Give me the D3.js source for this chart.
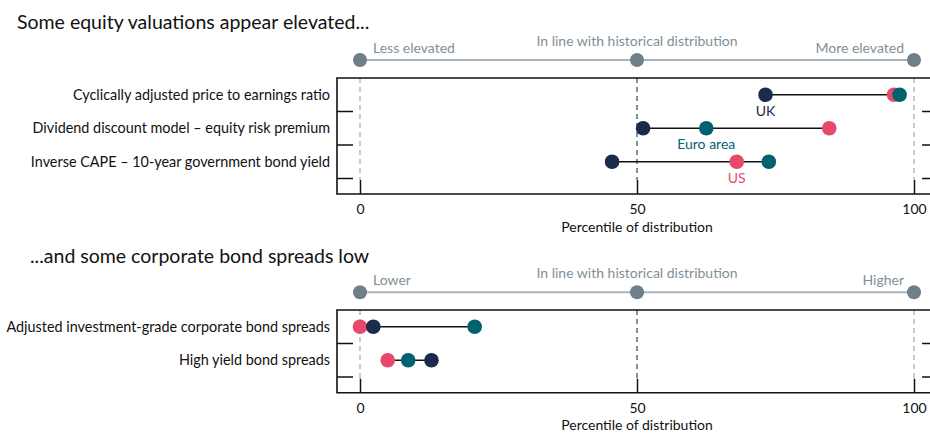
<!DOCTYPE html>
<html><head><meta charset="utf-8">
<script src="https://cdn.jsdelivr.net/npm/d3@7"></script>
<style>
html,body{margin:0;padding:0;background:#fff;}
svg{display:block;font-family:Lato,"Open Sans",sans-serif;}
</style></head>
<body><svg id="c" width="930" height="433"></svg>
<script>
// ---- data ----
const titles = ["Some equity valuations appear elevated...", "...and some corporate bond spreads low"];
const equityCategories = ["Cyclically adjusted price to earnings ratio", "Dividend discount model \u2013 equity risk premium", "Inverse CAPE \u2013 10-year government bond yield"];
const equityUK = [73.2, 51.1, 45.5];
const equityEuro = [97.4, 62.5, 73.8];
const equityUS = [96.4, 84.7, 68.0];
const bondCategories = ["Adjusted investment-grade corporate bond spreads", "High yield bond spreads"];
const bondUK = [2.4, 12.9];
const bondEuro = [20.7, 8.7];
const bondUS = [0.0, 5.0];
const xTicks = [0, 50, 100];
const equityScaleLabels = ["Less elevated", "In line with historical distribution", "More elevated"];
const bondScaleLabels = ["Lower", "In line with historical distribution", "Higher"];
const seriesNames = ["US", "UK", "Euro area"];
const axisTitle = "Percentile of distribution";

const colors = {UK: "#1c2b4c", "Euro area": "#00626e", US: "#e8496b"};
const svg = d3.select("#c");
const x = d3.scaleLinear().domain([0, 100]).range([360, 914]);
const plotLeft = 337, plotRight = 934;

function panel(o) {
  const g = svg.append("g");
  // title
  g.append("text").attr("x", o.titleX).attr("y", o.titleY).attr("font-size", 19.5).attr("fill", "#111").text(o.title);
  // indicator scale
  g.append("line").attr("x1", x(0)).attr("x2", x(100)).attr("y1", o.indY).attr("y2", o.indY)
    .attr("stroke", "#a7b4bb").attr("stroke-width", 2);
  g.selectAll(".ind").data(xTicks).join("circle").attr("cx", d => x(d)).attr("cy", o.indY).attr("r", 7).attr("fill", "#6e7f89");
  const lc = "#7f9099";
  g.append("text").attr("x", x(0) + 13).attr("y", o.sideLabelY).attr("font-size", 14).attr("fill", lc).text(o.scaleLabels[0]);
  g.append("text").attr("x", x(50)).attr("y", o.midLabelY).attr("text-anchor", "middle").attr("font-size", 14).attr("fill", lc).text(o.scaleLabels[1]);
  g.append("text").attr("x", x(100) - 10).attr("y", o.sideLabelY).attr("text-anchor", "end").attr("font-size", 14).attr("fill", lc).text(o.scaleLabels[2]);

  const y = d3.scaleBand().domain(o.cats).range([o.top, o.top + o.cats.length * 33.5]).padding(0);
  const cy = c => y(c) + y.bandwidth() / 2;

  // dashed reference lines
  g.selectAll(".ref").data(xTicks).join("line")
    .attr("x1", d => x(d)).attr("x2", d => x(d)).attr("y1", o.top).attr("y2", o.bottom - 14)
    .attr("stroke", d => d === 50 ? "#3e5566" : "#9fb0ba").attr("stroke-width", 1.3).attr("stroke-dasharray", "5,4");

  // x axis
  const xa = g.append("g").attr("transform", `translate(0,${o.bottom})`)
    .call(d3.axisBottom(x).tickValues(xTicks).tickSizeInner(-14).tickSizeOuter(0).tickPadding(10));
  xa.select(".domain").remove();
  xa.selectAll("line").attr("stroke", "#111").attr("stroke-width", 1.5);
  xa.selectAll("text").attr("font-size", 14).attr("fill", "#111").attr("font-family", "Lato,'Open Sans',sans-serif");
  g.append("text").attr("x", x(50)).attr("y", o.bottom + 37.5).attr("text-anchor", "middle").attr("font-size", 14).attr("fill", "#111").text(axisTitle);

  // box
  g.append("path").attr("d", `M${plotRight},${o.top}H${plotLeft}V${o.bottom}H${plotRight}`)
    .attr("fill", "none").attr("stroke", "#111").attr("stroke-width", 1.6);

  // y ticks (band boundaries)
  const bounds = o.cats.map(c => y(c) + y.bandwidth());
  g.selectAll(".lt").data(bounds).join("line").attr("x1", plotLeft).attr("x2", plotLeft + 16).attr("y1", d => d).attr("y2", d => d).attr("stroke", "#111").attr("stroke-width", 1.5);
  g.selectAll(".rt").data(bounds).join("line").attr("x1", 922).attr("x2", 930).attr("y1", d => d).attr("y2", d => d).attr("stroke", "#111").attr("stroke-width", 1.5);

  // category labels
  g.selectAll(".cl").data(o.cats).join("text").attr("x", 330).attr("y", d => cy(d)).attr("dy", "0.36em")
    .attr("text-anchor", "end").attr("font-size", 14.4).attr("fill", "#111").text(d => d);

  // connector lines
  const rows = o.cats.map((c, i) => ({c, US: o.us[i], UK: o.uk[i], "Euro area": o.euro[i]}));
  g.selectAll(".conn").data(rows).join("line")
    .attr("x1", d => x(Math.min(d.US, d.UK, d["Euro area"]))).attr("x2", d => x(Math.max(d.US, d.UK, d["Euro area"])))
    .attr("y1", d => cy(d.c)).attr("y2", d => cy(d.c)).attr("stroke", "#111").attr("stroke-width", 1.6);

  seriesNames.forEach(s => {
    g.selectAll(".dot" + s.replace(" ", "")).data(rows).join("circle")
      .attr("cx", d => x(d[s])).attr("cy", d => cy(d.c)).attr("r", 7.3).attr("fill", colors[s]);
  });

  // series annotations
  (o.annotations || []).forEach(a => {
    const r = rows[a.row];
    g.append("text").attr("x", x(r[a.s])).attr("y", cy(r.c) + 21).attr("text-anchor", "middle")
      .attr("font-size", 14).attr("fill", colors[a.s]).text(a.s);
  });
}

panel({title: titles[0], titleX: 17, titleY: 29, indY: 60, sideLabelY: 53, midLabelY: 46,
  scaleLabels: equityScaleLabels, cats: equityCategories, top: 78, bottom: 194,
  uk: equityUK, euro: equityEuro, us: equityUS,
  annotations: [{row: 0, s: "UK"}, {row: 1, s: "Euro area"}, {row: 2, s: "US"}]});
panel({title: titles[1], titleX: 30, titleY: 263, indY: 292.3, sideLabelY: 285, midLabelY: 277.5,
  scaleLabels: bondScaleLabels, cats: bondCategories, top: 310, bottom: 392.7,
  uk: bondUK, euro: bondEuro, us: bondUS});
</script></body></html>
